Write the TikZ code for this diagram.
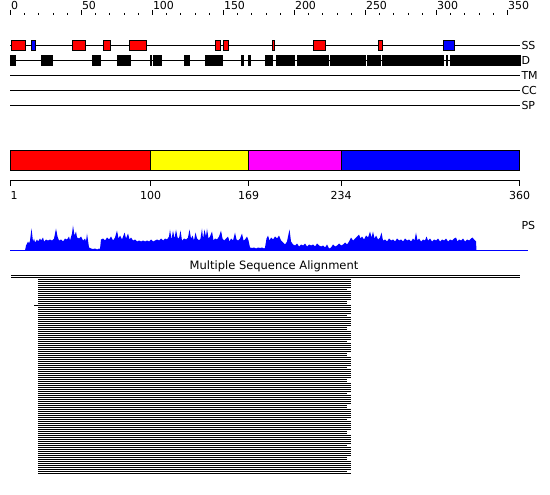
\documentclass[tikz,border=0pt]{standalone}
\usepackage{fontspec}
\setmainfont{DejaVu Sans}
\definecolor{pred}{RGB}{255,0,0}
\definecolor{pblue}{RGB}{0,0,255}
\definecolor{pyellow}{RGB}{255,255,0}
\definecolor{pmag}{RGB}{255,0,255}
\begin{document}
\begin{tikzpicture}[x=1bp,y=-1bp,line width=1bp,
  lbl/.style={font=\fontsize{11bp}{13bp}\selectfont,inner sep=0pt},
  ssbox/.style={draw=black,line width=1bp},
  dbox/.style={fill=black,draw=black,line width=1bp},
  dombox/.style={draw=black,line width=1bp},
  alnline/.style={line width=1bp,black}]
\useasboundingbox (0,0) rectangle (550,495);
\fill[white] (0,0) rectangle (550,495);
% top ruler
\foreach \u in {0,10,...,350} {\draw (10.5+\u*1.42,13) -- (10.5+\u*1.42,15);}
\foreach \u in {0,50,...,350} {
  \draw (10.5+\u*1.42,10) -- (10.5+\u*1.42,15);
  \node[lbl,anchor=base west] (r\u) at (10.5+\u*1.42,10) {\u};
}
% tracks
\foreach \y/\t in {45.5/SS,60.5/D,75.5/TM,90.5/CC,105.5/SP} {
  \draw (10,\y) -- (520,\y);
  \node[lbl,anchor=west,inner xsep=1bp] (t\t) at (520,\y) {\t};
}
% SS boxes
\foreach \a/\b/\c in {11/25.7/pred,31/35.7/pblue,72.3/85.7/pred,103.3/110.7/pred,129.3/146.7/pred,215/220/pred,223.3/228.7/pred,272/274.7/pred,313.3/325.7/pred,378.3/382.7/pred,443/454/pblue}
  {\filldraw[ssbox,fill=\c] (\a,40.5) rectangle (\b,50.5);}
% D boxes
\foreach \a/\b in {10/15,41/49,50.7/52.7,92/100,117/130,150/151.7,153.3/161,184/189,205/222.7,241.7/243.7,248.7/250.7,265/272.7,276/294,297/328,330/331,332.7/349,350/365.7,367/380.5,382/428,429.5/443.5,446/447,450/520}
  {\filldraw[dbox] (\a,55.5) rectangle (\b,65.5);}
% domain bar
\filldraw[dombox,fill=pred] (10.5,150.5) rectangle (150.6,170.5);
\filldraw[dombox,fill=pyellow] (150.6,150.5) rectangle (248.7,170.5);
\filldraw[dombox,fill=pmag] (248.7,150.5) rectangle (341,170.5);
\filldraw[dombox,fill=pblue] (341,150.5) rectangle (519.5,170.5);
\draw (10,181) -- (520,181);
\foreach \x in {10.5,150.6,248.7,341,519.5} {
  \draw (\x,181) -- (\x,186);
}
\node[lbl,anchor=base west] (l1) at (10,199.5) {1};
\node[lbl,anchor=base] (l100) at (150.6,199.5) {100};
\node[lbl,anchor=base] (l169) at (248.7,199.5) {169};
\node[lbl,anchor=base] (l234) at (341,199.5) {234};
\node[lbl,anchor=base] (l360) at (519.5,199.5) {360};
% PS profile
\node[lbl,anchor=base west] (ps) at (521,229.5) {PS};
\draw[pblue] (10,250.5) -- (528,250.5);
\begin{scope}[shift={(0,250.5)},yscale=-1]
\fill[pblue] (25,0) -- plot coordinates {
(26,5) (28,9) (29,7) (30,10) (31.5,22) (33,9) (34,12) (35,8) (37,11) (38,9) (40,12) (41,10) (43,13) (44,9) (46,11) (48,10) (50,11) (52,10) (54,12) (56,22) (57.5,14) (59,10) (61,11) (63,9) (65,12) (67,11) (69,14) (70,10) (72,17) (73,25) (74.5,15) (76,19) (77,13) (79,12) (81,14) (83,10) (85,12) (86,9) (87,17) (88,10) (89,3) (91,2) (93,1.5) (95,2) (97,1) (99,2) (100,1.5) (101,11) (103,12) (105,10) (107,13) (109,11) (111,14) (113,10) (115,13) (117,20) (118.5,12) (120,15) (122,11) (124.6,18) (126,12) (128,17) (129.5,11) (131,13) (133,10) (135,11) (137,9) (139,10) (141,9) (143,10) (145,9) (147,10) (149,9) (151,11) (153,9) (155,10) (157,11) (159,10) (161,12) (163,10) (165,12) (167,11) (169,14) (170,21) (171.5,11) (173,20) (174.5,12) (176,21) (177.5,13) (179,12) (180.5,20) (182,10) (184,12) (186,11) (188,13) (189.5,21) (191,12) (192.5,15) (194,10) (195.5,18) (197,12) (199,10) (200.5,12) (202,22) (203,12) (204.5,21) (206,14) (207,22) (208.5,12) (210,14) (212,19) (213.5,10) (215,12) (217,11) (219,14) (221,20) (222.5,12) (224,10) (226,12) (228,14) (229.5,9) (231,12) (233,10) (235,18) (236.5,11) (238,10) (240,12) (242,17) (243.5,10) (245,11) (247,14) (248.5,10) (250,3) (252,2.5) (254,3) (256,2) (258,3) (260,2.5) (262,3) (264,2) (265,3) (266.5,12) (268,15) (269.5,10) (271,13) (273,11) (275,14) (277,12) (279,15) (281,10) (283,8) (285,6) (287,9) (289.5,21) (291,9) (293,6) (295,5) (297,7) (299,4) (301,6) (303,5) (305,7) (307,4) (309,6) (311,5) (313,6) (315,4) (317,7) (319,5) (321,4) (323,5) (325,3) (327,6) (329,2) (331,3) (333,6) (335,4) (337,5) (339,7) (341,5) (343,6) (345,8) (347,6) (349,9) (351,13) (353,10) (355,12) (357,14) (359,16) (360.5,12) (362,14) (364,11) (366,15) (368,13) (370,19) (371.5,13) (373,19) (374.5,12) (376,15) (378,11) (380,13) (381.5,18) (383,10) (385,11) (387,9) (389,12) (391,10) (393,11) (395,9) (397,12) (399,10) (401,11) (403,9) (405,12) (407,10) (409,11) (411,9) (413,12) (414.5,10) (416,18) (417.5,10) (419,12) (421,9) (423,11) (425,10) (426.5,14) (428,10) (430,12) (432,9) (434,11) (436,10) (438,12) (440,9) (442,11) (444,10) (446,12) (448,9) (450,11) (452,10) (454,12) (456,13) (457.5,9) (459,11) (461,10) (463,12) (465,9) (467,11) (469,10) (471,12) (472.5,13) (474,11) (476,9)
} -- (476.5,0) -- cycle;
\end{scope}
% alignment
\node[lbl,anchor=base,font=\fontsize{11.5bp}{13bp}\selectfont] (msa) at (274,269.5) {Multiple Sequence Alignment};
\draw[alnline] (11,275.5) -- (520,275.5);
\draw[alnline] (11,277.5) -- (520,277.5);
\foreach \i in {0,...,97} {
  \pgfmathsetmacro\yy{279.5+2*\i}
  \pgfmathsetmacro\ee{ifthenelse(mod(\i*37+11,13)<3,347,350.5)}
  \pgfmathsetmacro\ss{ifthenelse(\i==13,34,38)}
  \draw[alnline] (\ss,\yy) -- (\ee,\yy);
}
\end{tikzpicture}
\end{document}
